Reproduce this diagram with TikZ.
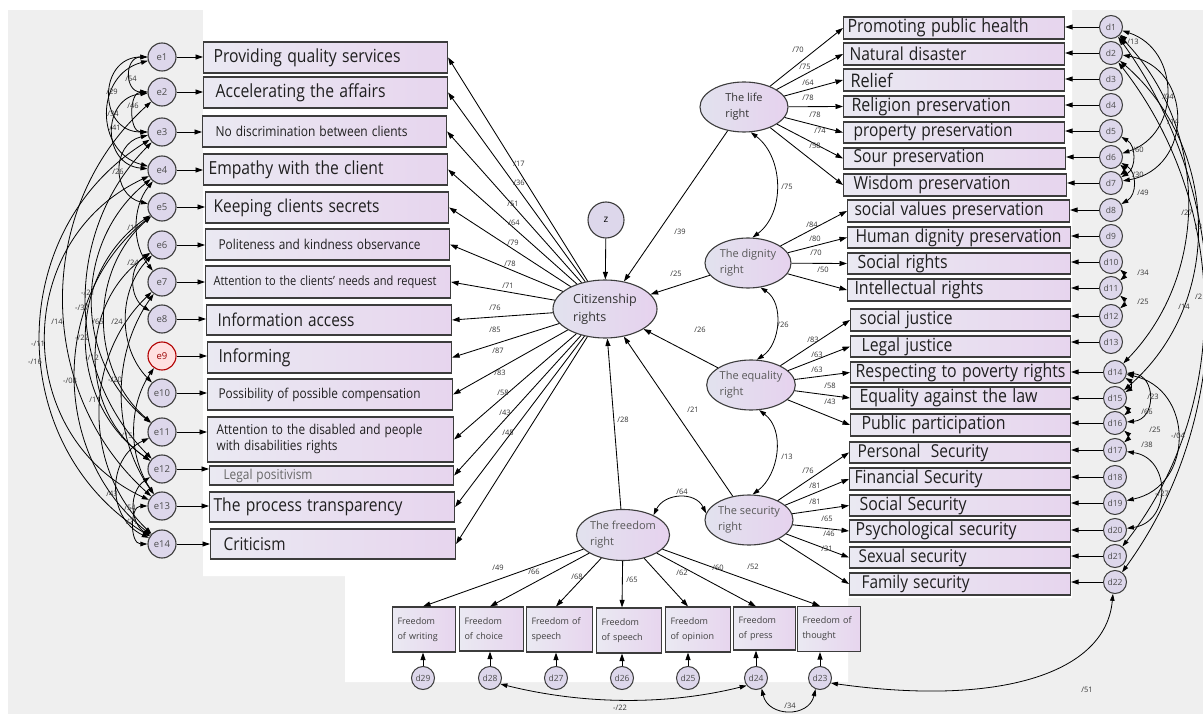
\documentclass[tikz,border=0pt]{standalone}
\usepackage{fontspec}
\usepackage{graphicx}
\setmainfont{Open Sans}
\usetikzlibrary{arrows.meta,shapes.geometric,calc}
\definecolor{bgg}{HTML}{EFEFEF}
\definecolor{boxl}{HTML}{EAE9F2}
\definecolor{boxr}{HTML}{E7D5EE}
\definecolor{circf}{HTML}{DDD7EB}
\definecolor{edge}{HTML}{3C3C3C}
\definecolor{latl}{HTML}{E2E2EE}
\definecolor{latr}{HTML}{E6D2EE}
\newcommand\tw[2]{\resizebox{#1pt}{!}{\scalebox{1}[1.15]{#2}}}
\tikzset{
 box/.style={rectangle, draw=edge, line width=1.1pt, left color=boxl, right color=boxr, anchor=west, align=left, inner ysep=0pt, font=\fontsize{10}{12}\selectfont, text=black!88},
 bbox/.style={box, font=\fontsize{9}{15}\selectfont, inner xsep=5pt, text=black!75},
 arr/.style={-{Triangle[length=7.5pt,width=5pt]}, line width=0.85pt, black},
 cv/.style={{Triangle[length=7pt,width=4.5pt]}-{Triangle[length=7pt,width=4.5pt]}, line width=0.8pt, black},
 ecirc/.style={circle, draw=edge, line width=1.1pt, fill=circf, minimum size=28pt, inner sep=0pt, font=\fontsize{9.5}{10}\selectfont, text=black!70},
 dcirc/.style={circle, draw=edge, line width=1pt, fill=circf, minimum size=23pt, inner sep=0pt, font=\fontsize{8.5}{9}\selectfont, text=black!70},
 lat/.style={ellipse, draw=edge, line width=1.1pt, left color=latl, right color=latr, inner sep=0pt, align=left, font=\fontsize{11}{16}\selectfont, text=black!80},
 coef/.style={font=\fontsize{7.5}{8}\selectfont, text=black!80, inner sep=0pt},
}
\begin{document}
\begin{tikzpicture}[x=1pt,y=-1pt]
% background
\fill[white] (0,0) rectangle (1203,714);
\fill[bgg] (8,10) rectangle (1203,714);
\fill[white] (203,10) -- (1072,10) -- (1072,598) -- (848,598) -- (848,682) -- (345,682) -- (345,576) -- (203,576) -- cycle;
\useasboundingbox (0,0) rectangle (1203,714);

% left boxes
\node[box, minimum width=244pt, minimum height=31pt, inner xsep=10pt, text width=224pt] (L1) at (203,57.5) {\tw{187}{Providing quality services}};
\node[box, minimum width=244pt, minimum height=31pt, inner xsep=12pt, text width=220pt] (L2) at (203,92.5) {\tw{170}{Accelerating the affairs}};
\node[box, minimum width=244pt, minimum height=31pt, inner xsep=13pt, text width=218pt] (L3) at (202,131.5) {\tw{192}{No discrimination between clients}};
\node[box, minimum width=244pt, minimum height=31pt, inner xsep=5pt, text width=234pt] (L4) at (203,169.5) {\tw{175}{Empathy with the client}};
\node[box, minimum width=243pt, minimum height=31pt, inner xsep=8pt, text width=227pt] (L5) at (205,207.5) {\tw{166}{Keeping clients secrets}};
\node[box, minimum width=244pt, minimum height=31pt, inner xsep=13pt, text width=218pt] (L6) at (205,244.5) {\tw{202}{Politeness and kindness observance}};
\node[box, minimum width=245pt, minimum height=32pt, inner xsep=8pt, text width=229pt] (L7) at (205,282) {\tw{223}{Attention to the clients’ needs and request}};
\node[box, minimum width=245pt, minimum height=30pt, inner xsep=11pt, text width=223pt] (L8) at (206,320) {\tw{137}{Information access}};
\node[box, minimum width=244pt, minimum height=31pt, inner xsep=11pt, text width=222pt] (L9) at (207,357.5) {\tw{72}{Informing}};
\node[box, minimum width=245pt, minimum height=31pt, inner xsep=11pt, text width=223pt] (L10) at (207,394.5) {\tw{202}{Possibility of possible compensation}};
\node[box, minimum width=246pt, minimum height=45pt, inner xsep=9pt, text width=228pt] (L11) at (207,439.5) {\tw{206}{\begin{tabular}{@{}l@{}}Attention to the disabled and people\\with disabilities rights\end{tabular}}};
\node[box, minimum width=244pt, minimum height=19pt, inner xsep=14pt, text width=216pt, text=black!60] (L12) at (209,475.5) {\tw{89}{Legal positivism}};
\node[box, minimum width=245pt, minimum height=30pt, inner xsep=4pt, text width=237pt] (L13) at (209,507) {\tw{189}{The process transparency}};
\node[box, minimum width=245pt, minimum height=30pt, inner xsep=13pt, text width=219pt] (L14) at (210,544) {\tw{62}{Criticism}};

% right boxes
\node[box, minimum width=221pt, minimum height=22pt, inner xsep=4pt, text width=213pt] (R1) at (843,28) {\tw{181}{Promoting public health}};
\node[box, minimum width=221pt, minimum height=22pt, inner xsep=6pt, text width=209pt] (R2) at (843,54) {\tw{117}{Natural disaster}};
\node[box, minimum width=221pt, minimum height=22pt, inner xsep=7pt, text width=207pt] (R3) at (843,80) {\tw{42}{Relief}};
\node[box, minimum width=221pt, minimum height=21pt, inner xsep=8pt, text width=205pt] (R4) at (843,106.5) {\tw{159}{Religion preservation}};
\node[box, minimum width=221pt, minimum height=21pt, inner xsep=10pt, text width=201pt] (R5) at (843,132.5) {\tw{159}{property preservation}};
\node[box, minimum width=222pt, minimum height=21pt, inner xsep=10pt, text width=202pt] (R6) at (843,158.5) {\tw{131}{Sour preservation}};
\node[box, minimum width=223pt, minimum height=22pt, inner xsep=10pt, text width=203pt] (R7) at (843,185) {\tw{157}{Wisdom preservation}};
\node[box, minimum width=222pt, minimum height=22pt, inner xsep=7pt, text width=208pt] (R8) at (847,211) {\tw{189}{social values preservation}};
\node[box, minimum width=223pt, minimum height=21pt, inner xsep=8pt, text width=207pt] (R9) at (847,237.5) {\tw{206}{Human dignity preservation}};
\node[box, minimum width=223pt, minimum height=21pt, inner xsep=10pt, text width=203pt] (R10) at (847,263.5) {\tw{90}{Social rights}};
\node[box, minimum width=223pt, minimum height=22pt, inner xsep=7pt, text width=209pt] (R11) at (847,290) {\tw{129}{Intellectual rights}};
\node[box, minimum width=220pt, minimum height=22pt, inner xsep=9pt, text width=202pt] (R12) at (850,320) {\tw{93}{social justice}};
\node[box, minimum width=220pt, minimum height=21pt, inner xsep=11pt, text width=198pt] (R13) at (850,346.5) {\tw{91}{Legal justice}};
\node[box, minimum width=220pt, minimum height=21pt, inner xsep=5pt, text width=210pt] (R14) at (850,372.5) {\tw{210}{Respecting to poverty rights}};
\node[box, minimum width=220pt, minimum height=22pt, inner xsep=9pt, text width=202pt] (R15) at (850,398) {\tw{178}{Equality against the law}};
\node[box, minimum width=220pt, minimum height=22pt, inner xsep=11pt, text width=198pt] (R16) at (850,425) {\tw{144}{Public participation}};
\node[box, minimum width=221pt, minimum height=21pt, inner xsep=8pt, text width=205pt] (R17) at (849,452.5) {\tw{131}{Personal\ \ Security}};
\node[box, minimum width=221pt, minimum height=22pt, inner xsep=5pt, text width=211pt] (R18) at (849,479) {\tw{128}{Financial Security}};
\node[box, minimum width=221pt, minimum height=21pt, inner xsep=10pt, text width=201pt] (R19) at (849,505.5) {\tw{107}{Social Security}};
\node[box, minimum width=221pt, minimum height=22pt, inner xsep=6pt, text width=209pt] (R20) at (849,531) {\tw{161}{Psychological security}};
\node[box, minimum width=221pt, minimum height=21pt, inner xsep=9pt, text width=203pt] (R21) at (849,557.5) {\tw{108}{Sexual security}};
\node[box, minimum width=221pt, minimum height=22pt, inner xsep=12pt, text width=197pt] (R22) at (849,584) {\tw{108}{Family security}};

% bottom boxes
\node[bbox, minimum width=63pt, minimum height=45pt, text width=53pt] (B1) at (392,629.5) {Freedom\\of writing};
\node[bbox, minimum width=64pt, minimum height=44pt, text width=54pt] (B2) at (459,629) {Freedom\\of choice};
\node[bbox, minimum width=66pt, minimum height=45pt, text width=56pt] (B3) at (526,629.5) {Freedom of\\speech};
\node[bbox, minimum width=65pt, minimum height=45pt, text width=55pt] (B4) at (596,630.5) {Freedom\\of speech};
\node[bbox, minimum width=65pt, minimum height=45pt, text width=55pt] (B5) at (665,629.5) {Freedom\\of opinion};
\node[bbox, minimum width=62pt, minimum height=43pt, text width=52pt] (B6) at (733,628.5) {Freedom\\of press};
\node[bbox, minimum width=63pt, minimum height=45pt, text width=53pt] (B7) at (797,629) {Freedom of\\thought};

% latent variables
\node[lat, minimum width=104pt, minimum height=58pt, font=\fontsize{12.5}{18}\selectfont] (cit) at (605,309) {Citizenship\\rights};
\node[circle, draw=edge, line width=1.1pt, fill=circf, minimum size=36pt, inner sep=0pt, font=\fontsize{10}{11}\selectfont] (z) at (606,220) {z};
\node[lat, minimum width=88pt, minimum height=50pt] (life) at (744,107) {The life\\right};
\node[lat, minimum width=86pt, minimum height=50pt, text=black!65] (dig) at (748,263) {The dignity\\right};
\node[lat, minimum width=88pt, minimum height=50pt, text=black!65] (eq) at (751,385) {The equality\\right};
\node[lat, minimum width=88pt, minimum height=50pt, text=black!65] (sec) at (749,520) {The security\\right};
\node[lat, minimum width=86pt, minimum height=51pt, text=black!65] (free) at (623,535) {The freedom\\right};

% error circles left
\foreach \i/\y in {1/57,2/92,3/132,4/170,5/207,6/245,7/282,8/319,10/393,11/432,12/469,13/506,14/544}
  \node[ecirc] (e\i) at (162,\y) {e\i};
\node[ecirc, draw=red!70!black, fill=red!12, text=red!60!black] (e9) at (162,356) {e9};

% error circles right
\foreach \i/\y in {1/27,2/53,3/79,4/105,5/131,6/157,7/183,8/210,9/236,10/262,11/288,12/316,13/342}
  \node[dcirc] (d\i) at (1111,\y) {d\i};
\foreach \i/\y in {14/372,15/398,16/423,17/450,18/477,19/503,20/530,21/556,22/582}
  \node[dcirc] (d\i) at (1115,\y) {d\i};
% error circles bottom
\foreach \i/\x in {29/423,28/490,27/556,26/622,25/688,24/756,23/820}
  \node[dcirc] (d\i) at (\x,678) {d\i};

% error arrows
\foreach \i in {1,...,14} \draw[arr] (e\i) -- (e\i -| L\i.west);
\foreach \i in {1,...,22} \draw[arr] (d\i) -- (d\i -| R\i.east);
\draw[arr] (d29) -- (d29 |- B1.south);
\draw[arr] (d28) -- (d28 |- B2.south);
\draw[arr] (d27) -- (d27 |- B3.south);
\draw[arr] (d26) -- (d26 |- B4.south);
\draw[arr] (d25) -- (d25 |- B5.south);
\draw[arr] (d24) -- (d24 |- B6.south);
\draw[arr] (d23) -- (d23 |- B7.south);

% loadings
\foreach \i in {1,...,14} \draw[arr] (cit) -- (L\i.east);
\foreach \i in {1,...,7} \draw[arr] (life) -- (R\i.west);
\foreach \i in {8,...,11} \draw[arr] (dig) -- (R\i.west);
\foreach \i in {12,...,16} \draw[arr] (eq) -- (R\i.west);
\foreach \i in {17,...,22} \draw[arr] (sec) -- (R\i.west);
\draw[arr] (free) -- (d29 |- B1.north);
\draw[arr] (free) -- (d28 |- B2.north);
\draw[arr] (free) -- (d27 |- B3.north);
\draw[arr] (free) -- (d26 |- B4.north);
\draw[arr] (free) -- (d25 |- B5.north);
\draw[arr] (free) -- (d24 |- B6.north);
\draw[arr] (free) -- (d23 |- B7.north);

% structural paths
\draw[arr] (z) -- (cit);
\draw[arr] (life) -- (cit);
\draw[arr] (dig) -- (cit);
\draw[arr] (eq) -- (cit);
\draw[arr] (sec) -- (cit);
\draw[arr] (free) -- (cit);

% latent covariances
\draw[cv] (life.-75) to[out=-37,in=37] (dig.80);
\draw[cv] (dig.-63) to[out=-33,in=33] (eq.77);
\draw[cv] (eq.-72) to[out=-37,in=37] (sec.82);
\draw[cv] (free.33) to[out=64,in=116,looseness=1.2] (sec.171);

% left error covariances
\draw[cv] (e1) to[out=180,in=180,looseness=1.7] (e2);
\draw[cv] (e1) to[out=180,in=180,looseness=1.7] (e3);
\draw[cv] (e2) to[out=180,in=180,looseness=1.2] (e3);
\draw[cv] (e1) to[out=195,in=165,looseness=1.34] (e4);
\draw[cv] (e2) to[out=185,in=175,looseness=1.57] (e4);
\draw[cv] (e3) to[out=193,in=167,looseness=1.4] (e5);
\draw[cv] (e4) to[out=231,in=129,looseness=0.96] (e7);
\draw[cv] (e6) to[out=213,in=147,looseness=1.1] (e8);
\draw[cv] (e4) to[out=219,in=141,looseness=1.05] (e11);
\draw[cv] (e3) to[out=225,in=135,looseness=1.0] (e12);
\draw[cv] (e2) to[out=222,in=138,looseness=1.02] (e13);
\draw[cv] (e5) to[out=221,in=139,looseness=1.02] (e11);
\draw[cv] (e6) to[out=226,in=134,looseness=0.99] (e10);
\draw[cv] (e4) to[out=205,in=155,looseness=1.2] (e13);
\draw[cv] (e3) to[out=212,in=148,looseness=1.11] (e14);
\draw[cv] (e5) to[out=215,in=145,looseness=1.08] (e12);
\draw[cv] (e6) to[out=215,in=145,looseness=1.08] (e12);
\draw[cv] (e5) to[out=219,in=141,looseness=1.04] (e14);
\draw[cv] (e7) to[out=235,in=125,looseness=0.94] (e13);
\draw[cv] (e7) to[out=224,in=136,looseness=1.01] (e14);
\draw[cv] (e9) to[out=236,in=124,looseness=0.94] (e13);
\draw[cv] (e11) to[out=205,in=155,looseness=1.2] (e14);
\draw[cv] (e12) to[out=214,in=146,looseness=1.09] (e14);
\draw[cv] (e13) to[out=180,in=180,looseness=1.2] (e14);

% right error covariances
\draw[cv] (d1) to[out=-40,in=40,looseness=1.2] (d2);
\draw[cv] (d1) to[out=-18,in=18,looseness=1.29] (d6);
\draw[cv] (d2) to[out=-10,in=10,looseness=1.47] (d7);
\draw[cv] (d5) to[out=-30,in=30,looseness=1.1] (d7);
\draw[cv] (d6) to[out=-40,in=40,looseness=1.2] (d7);
\draw[cv] (d6) to[out=-30,in=30,looseness=1.13] (d8);
\draw[cv] (d10) to[out=-40,in=40,looseness=1.2] (d11);
\draw[cv] (d11) to[out=-40,in=40,looseness=1.2] (d12);
\draw[cv] (d2) to[out=-41,in=41,looseness=1.03] (d15);
\draw[cv] (d1) to[out=-54,in=54,looseness=0.94] (d22);
\draw[cv] (d2) to[out=-52,in=52,looseness=0.95] (d21);
\draw[cv] (d1) to[out=-46,in=46,looseness=0.99] (d14);
\draw[cv] (d14) to[out=-30,in=30,looseness=1.3] (d15);
\draw[cv] (d15) to[out=-40,in=40,looseness=1.2] (d16);
\draw[cv] (d14) to[out=-5,in=5,looseness=1.55] (d16);
\draw[cv] (d16) to[out=-40,in=40,looseness=1.2] (d17);
\draw[cv] (d14) to[out=-12,in=12,looseness=1.41] (d19);
\draw[cv] (d17) to[out=-8,in=8,looseness=1.5] (d20);
\draw[cv] (d23.-25) .. controls +(-8:170pt) and +(-95:80pt) .. (d22.-100);

% bottom error covariances
\draw[cv] (d28.-30) to[out=-14,in=194,looseness=0.87] (d24.219);
\draw[cv] (d24.-62) to[out=-77,in=-103,looseness=1.4] (d23.248);

% coefficient labels: citizenship
\foreach \x/\y/\t in {519/164/17,519/183/36,513/204/51,514/223/64,513/243/79,510/264/78,508/286/71,495/308/76,495/330/85,498/351/87,500/373/83,503/393/58,505/413/43,508/433/45}
  \node[coef] at (\x,\y) {/\t};
% life, dignity, equality, security
\foreach \x/\y/\t in {798/50/70,805/67/75,808/83/64,808/98/78,815/115/78,820/131/74,815/146/58,
  812/225/84,815/239/80,816/253/70,823/270/50,
  813/340/83,817/355/63,817/370/63,830/386/58,830/402/43,
  808/471/76,815/486/81,815/502/81,827/519/65,829/534/46,827/549/31}
  \node[coef] at (\x,\y) {/\t};
% freedom
\foreach \x/\y/\t in {498/568/49,534/572/66,577/577/68,632/580/65,682/573/62,718/568/60,753/567/52}
  \node[coef] at (\x,\y) {/\t};
% structural and latent covariances
\foreach \x/\y/\t in {680/232/39,676/274/25,700/330/26,693/410/21,623/420/28,787/187/75,783/325/26,787/457/13,682/492/64}
  \node[coef] at (\x,\y) {/\t};
% left covariances
\foreach \x/\y/\t in {131/79/54,112/92/29,133/106/46,113/114/34,115/128/41,118/172/26,133/228/18,133/263/24,
  57/322/14,98/322/65,117/322/24,95/400/11,127/436/15,112/494/43,130/508/54,132/522/21}
  \node[coef] at (\x,\y) {/\t};
\foreach \x/\y/\t in {88/293/21,82/308/37,38/344/11,35/362/16,82/338/22,92/358/12,70/381/08,115/380/20}
  \node[coef] at (\x,\y) {-/\t};
% right covariances
\foreach \x/\y/\t in {1133/42/13,1168/97/04,1173/122/14,1138/150/60,1138/175/30,1143/193/49,1143/273/34,1143/302/25,
  1187/213/27,1184/307/14,1153/397/23,1147/412/66,1155/430/25,1147/445/38,1087/690/51}
  \node[coef] at (\x,\y) {/\t};
\node[coef, anchor=west] at (1195,227) {/3};
\node[coef, anchor=west] at (1195,297) {/2};
\foreach \x/\y/\t in {1178/436/04,1162/494/27,620/708/22}
  \node[coef] at (\x,\y) {-/\t};
\node[coef] at (790,706) {/34};
\end{tikzpicture}
\end{document}
